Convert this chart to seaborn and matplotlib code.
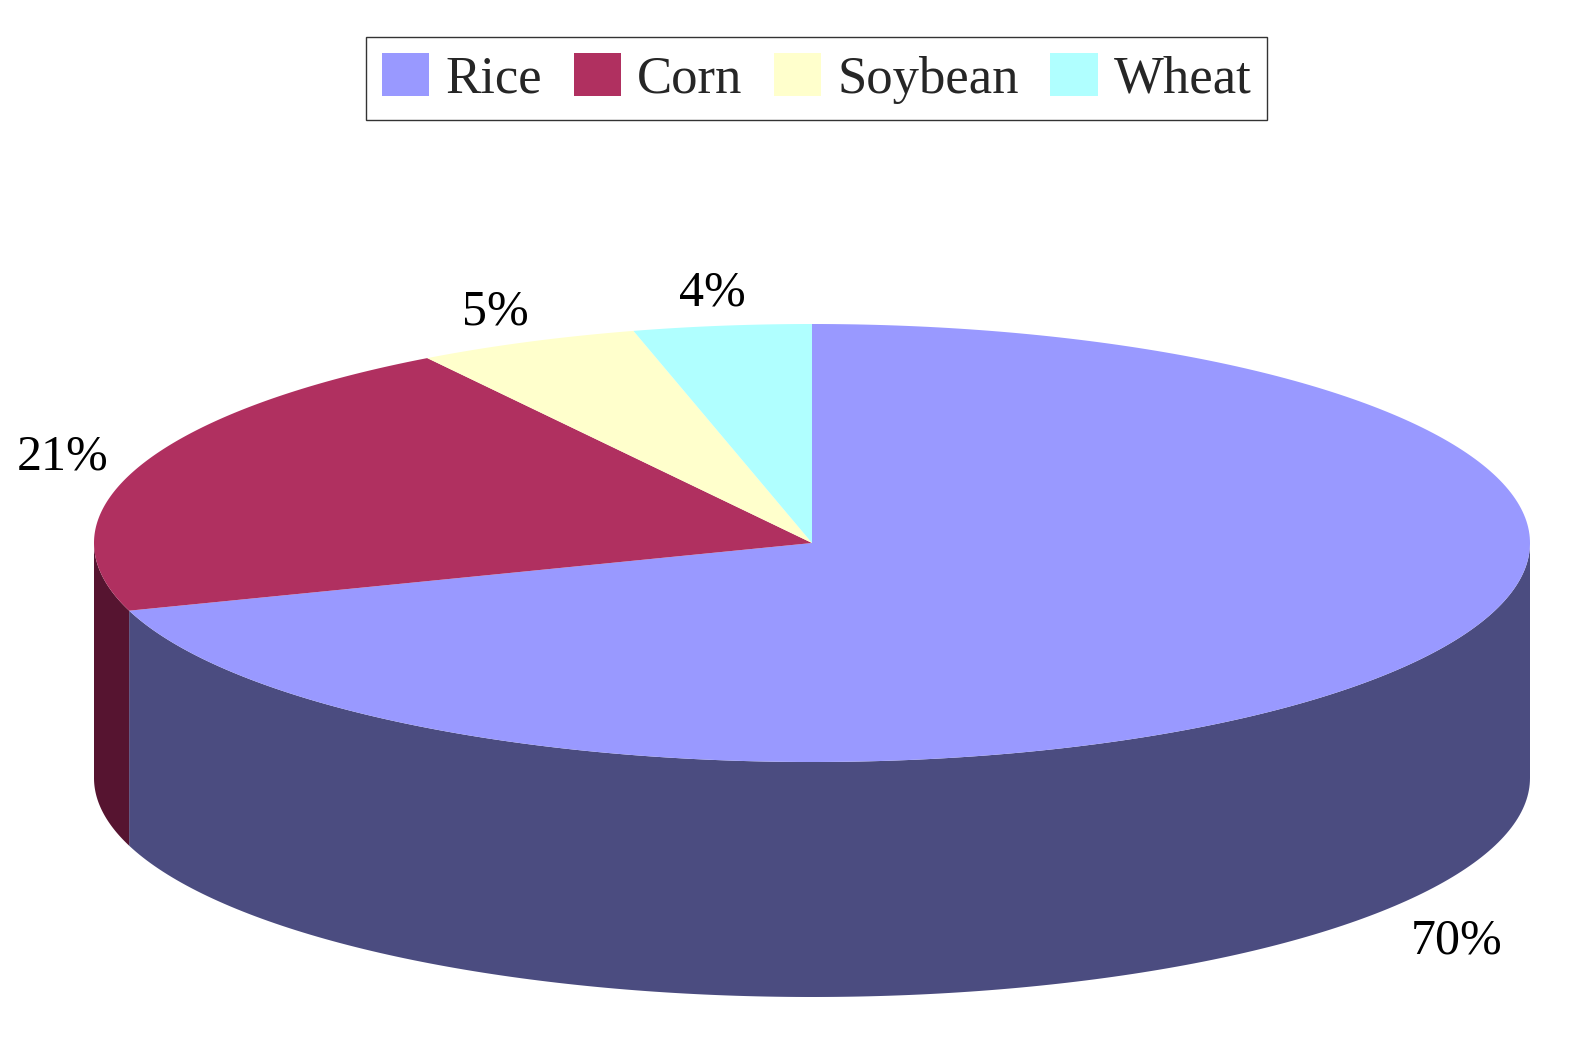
import matplotlib.pyplot as plt
import numpy as np
import seaborn as sns
from matplotlib.patches import Polygon, Patch

crops = ['Rice', 'Corn', 'Soybean', 'Wheat']
shares = [70, 21, 5, 4]
top_colors = ['#9999FF', '#B03060', '#FFFFCC', '#B0FFFF']
side_colors = ['#4B4C80', '#561430', '#808066', '#588080']

sns.set_theme(style='white')
plt.rcParams['font.family'] = ['Liberation Serif', 'DejaVu Serif']

# ellipse geometry in pixel coordinates
cx, cy = 812, 543
rx, ry = 718, 219
depth = 235


def pt(deg):
    # clockwise angle from 12 o'clock
    t = np.radians(deg)
    return cx + rx * np.sin(t), cy - ry * np.cos(t)


fig = plt.figure(figsize=(15.89, 10.38), dpi=100)
ax = fig.add_axes([0, 0, 1, 1])
ax.set_xlim(0, 1589)
ax.set_ylim(1038, 0)
ax.axis('off')

bounds = np.concatenate([[0], np.cumsum(shares) / sum(shares) * 360])

# side walls (front half: 90..270 degrees)
for i in range(len(shares)):
    a0, a1 = max(bounds[i], 90), min(bounds[i + 1], 270)
    if a1 <= a0:
        continue
    angs = np.linspace(a0, a1, 200)
    top = [pt(a) for a in angs]
    bot = [(x, y + depth) for x, y in top[::-1]]
    ax.add_patch(Polygon(top + bot, closed=True, fc=side_colors[i], ec='none'))

# top faces
for i in range(len(shares)):
    angs = np.linspace(bounds[i], bounds[i + 1], 300)
    verts = [(cx, cy)] + [pt(a) for a in angs]
    ax.add_patch(Polygon(verts, closed=True, fc=top_colors[i], ec='none'))

# percentage labels
for i, s in enumerate(shares):
    mid = (bounds[i] + bounds[i + 1]) / 2
    t = np.radians(mid)
    x = cx + 1.11 * rx * np.sin(t)
    y = cy - 1.15 * ry * np.cos(t)
    if np.cos(t) < 0:
        y += depth + 15
    ax.text(x, y, f'{s}%', fontsize=36, ha='center', va='center', color='black')

handles = [Patch(fc=c, ec='none') for c in top_colors]
leg = fig.legend(handles, crops, loc='upper center', bbox_to_anchor=(0.514, 0.99),
                 ncol=4, fontsize=38, frameon=True, fancybox=False,
                 handlelength=0.9, handleheight=0.9, handletextpad=0.3,
                 columnspacing=0.6, borderpad=0.3)
leg.get_frame().set_edgecolor('black')
leg.get_frame().set_linewidth(1)

fig.savefig('out.png', dpi=100)
